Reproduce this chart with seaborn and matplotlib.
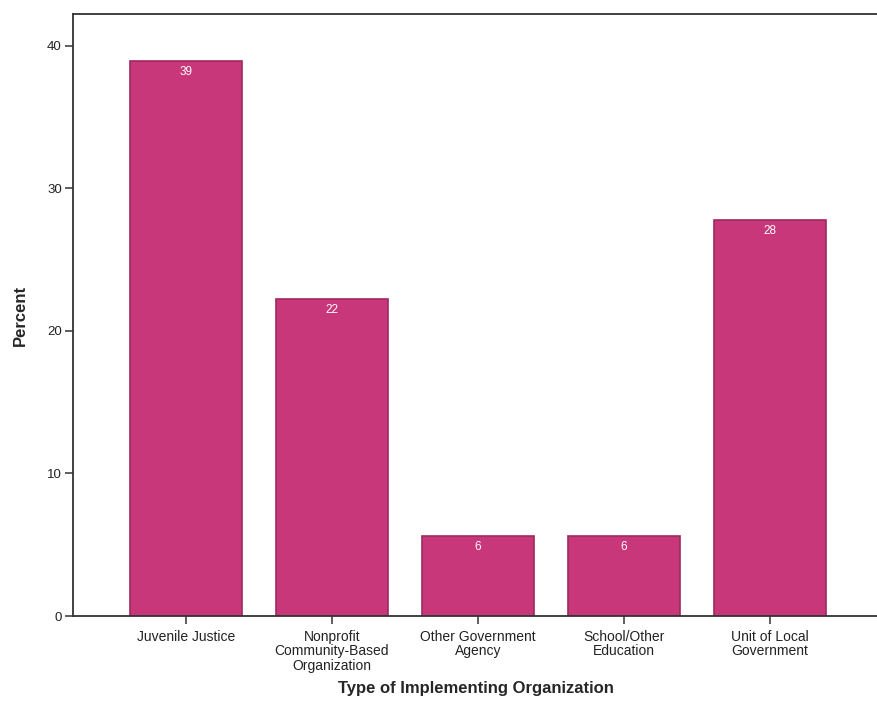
import matplotlib
matplotlib.use("Agg")
import matplotlib.pyplot as plt
import seaborn as sns
import pandas as pd

categories = [
    "Juvenile Justice",
    "Nonprofit\nCommunity-Based\nOrganization",
    "Other Government\nAgency",
    "School/Other\nEducation",
    "Unit of Local\nGovernment",
]
percents = [38.9, 22.2, 5.6, 5.6, 27.8]
y_ticks = [0, 10, 20, 30, 40]

df = pd.DataFrame({"org": categories, "pct": percents})

sns.set_theme(style="white")
plt.rcParams["font.family"] = ["Liberation Sans", "DejaVu Sans"]

fig = plt.figure(figsize=(8.78, 7.13), dpi=100)
ax = fig.add_axes([0.0831, 0.136, 0.917, 0.844])

sns.barplot(data=df, x="org", y="pct", ax=ax, color="#c73779",
            width=0.77, edgecolor="#9e2a5f", linewidth=1.2, saturation=1)

for p, v in zip(ax.patches, percents):
    ax.text(p.get_x() + p.get_width() / 2, v - 0.35, f"{v:.0f}",
            ha="center", va="top", color="white", fontsize=8.5)

ax.set_xlim(-0.774, 4.74)
ax.set_ylim(0, 42.2)
ax.set_yticks(y_ticks)
ax.set_yticklabels([str(t) for t in y_ticks], fontsize=9.5, color="#222222")
ax.set_xticks(range(len(categories)))
ax.set_xticklabels(categories, fontsize=10, color="#222222", linespacing=1.05)

for side in ["left", "bottom", "top"]:
    ax.spines[side].set_visible(True)
    ax.spines[side].set_color("#333333")
    ax.spines[side].set_linewidth(1.3)
ax.spines["right"].set_visible(False)

ax.tick_params(axis="both", which="major", direction="out", length=6,
               width=1.1, color="#333333", bottom=True, left=True)
ax.tick_params(axis="x", pad=4)
ax.tick_params(axis="y", pad=2)

ax.set_ylabel("Percent", fontsize=12, fontweight="bold", labelpad=14)
ax.set_xlabel("Type of Implementing Organization", fontsize=12,
              fontweight="bold", labelpad=6)

fig.savefig("out.png", dpi=100)
